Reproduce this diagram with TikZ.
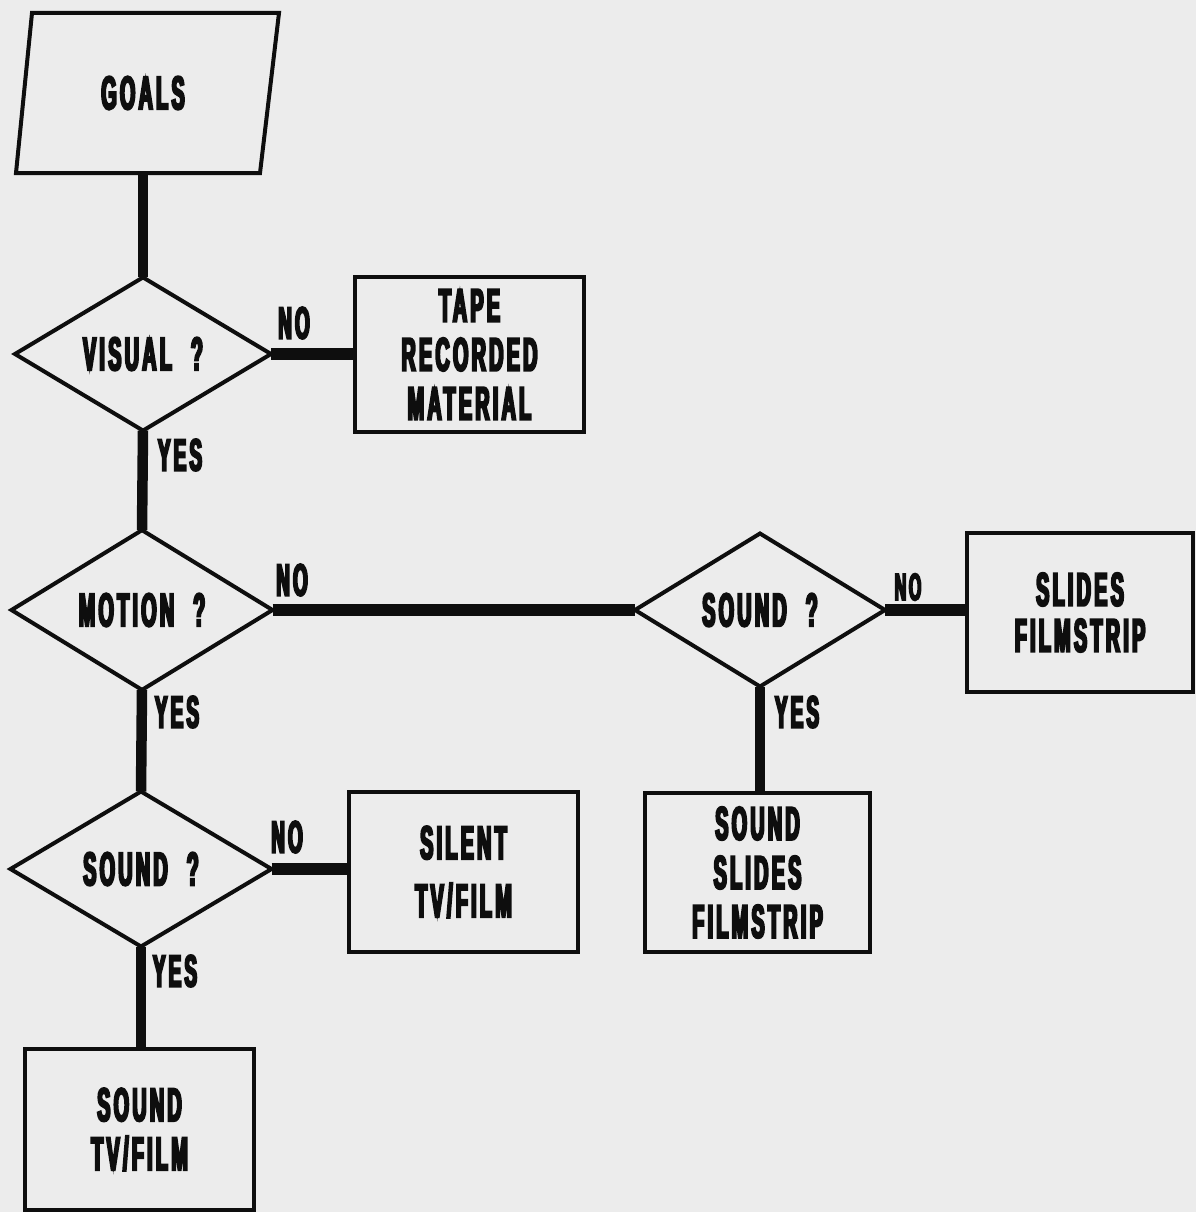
\documentclass[tikz,border=0pt]{standalone}
\usepackage{fontspec}
\newfontfamily\cf[FakeStretch=0.42,FakeBold=4.5,LetterSpace=7]{Liberation Sans Bold}
\usetikzlibrary{shapes.geometric}
\definecolor{paper}{RGB}{236,236,236}
\definecolor{ink}{RGB}{14,14,14}
\newcommand\qgap{\hspace{19pt}}
\begin{document}
\begin{tikzpicture}[x=1pt,y=-1pt,
  every node/.style={font=\cf\fontsize{47}{49}\selectfont, text=ink, inner sep=0pt, outer sep=0pt},
  dia/.style={diamond, draw=ink, line width=4pt, minimum width=258pt, minimum height=154pt},
  box/.style={rectangle, draw=ink, line width=4pt, align=center},
  lbl/.style={font=\cf\fontsize{45}{45}\selectfont},
  conn/.style={draw=ink, line width=10.5pt},
  hconn/.style={draw=ink, line width=12.5pt}]
\fill[paper] (0,0) rectangle (1196,1212);
\useasboundingbox (0,0) rectangle (1196,1212);

% goals
\node[minimum width=245pt, minimum height=160pt] (goals) at (143,93) {GOALS};
\draw[ink, line width=4pt, line join=miter]
  ([shift={(-111,-80)}]goals.center) -- ([shift={(136,-80)}]goals.center)
  -- ([shift={(117,80)}]goals.center) -- ([shift={(-127,80)}]goals.center) -- cycle;

% decisions
\node[dia, minimum width=256pt, minimum height=152pt] (visual) at (143,354) {VISUAL\qgap?};
\node[dia, minimum width=261pt, minimum height=155pt] (motion) at (142,610) {MOTION\qgap?};
\node[dia, minimum width=250pt, minimum height=153pt] (soundr) at (760,610) {SOUND\qgap?};
\node[dia, minimum width=261pt, minimum height=155pt] (soundl) at (141,869) {SOUND\qgap?};

% outcomes
\node[box, minimum width=229pt, minimum height=155pt] (tape) at (469.5,354.5) {TAPE\\RECORDED\\MATERIAL};
\node[box, minimum width=226pt, minimum height=159pt] (slides) at (1080,612.5) {SLIDES\\[-3pt]FILMSTRIP};
\node[box, minimum width=225pt, minimum height=159pt] (sslides) at (757.5,872.5) {SOUND\\SLIDES\\FILMSTRIP};
\node[box, minimum width=229pt, minimum height=160pt] (silent) at (463.5,872) {SILENT\\[9pt]TV/FILM};
\node[box, minimum width=229pt, minimum height=161pt] (soundtv) at (139.5,1129.5) {SOUND\\TV/FILM};

% connectors
\draw[conn] (goals.south) -- (visual.north);
\draw[hconn] (visual.east) -- (visual.east -| tape.west);
\draw[conn] (visual.south) -- (motion.north);
\draw[hconn] (motion.east) -- (soundr.west);
\draw[hconn] (soundr.east) -- (soundr.east -| slides.west);
\draw[conn] (soundr.south) -- (soundr.south |- sslides.north);
\draw[conn] (motion.south) -- (soundl.north);
\draw[hconn] (soundl.east) -- (soundl.east -| silent.west);
\draw[conn] (soundl.south) -- (soundl.south |- soundtv.north);

% labels
\node[lbl] (no1) at (294,323) {NO};
\node[lbl] (yes1) at (180,455) {YES};
\node[lbl] (no2) at (292,580) {NO};
\node[lbl] (yes2) at (177,712) {YES};
\node[lbl, font=\cf\fontsize{38}{38}\selectfont] (no3) at (908,587) {NO};
\node[lbl] (yes3) at (797,712) {YES};
\node[lbl] (no4) at (287,837) {NO};
\node[lbl] (yes4) at (175,971) {YES};
\end{tikzpicture}
\end{document}
